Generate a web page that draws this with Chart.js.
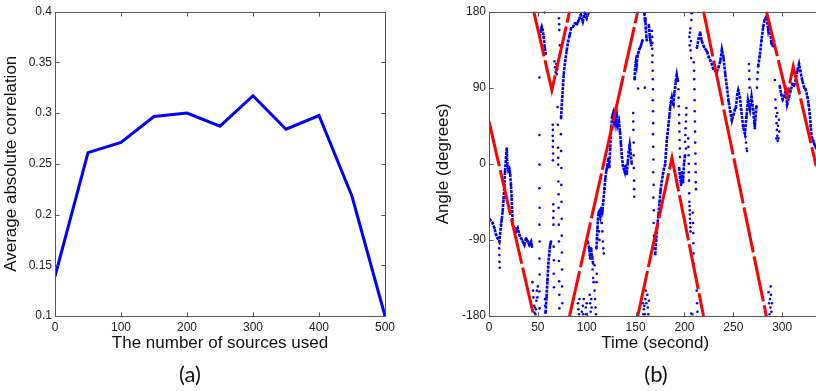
<!DOCTYPE html>
<html>
<head>
<meta charset="utf-8">
<script src="https://cdn.jsdelivr.net/npm/chart.js@4.4.1/dist/chart.umd.min.js"></script>
<style>
  html, body { margin: 0; padding: 0; background: #fff; overflow: hidden; }
  #wrap { position: relative; width: 816px; height: 391px; overflow: hidden; background: #fff; }
  canvas { position: absolute; top: 0; }
  .lab { position: absolute; top: 362px; font-family: Lato, 'Open Sans', sans-serif; font-size: 22px; line-height: 24px; color: #111; transform: translateX(-50%); white-space: nowrap; }
</style>
</head>
<body>
<div id="wrap">
  <canvas id="ca" width="410" height="391" style="left:0px"></canvas>
  <canvas id="cb" width="416" height="391" style="left:410px"></canvas>
  <div class="lab" style="left:190px">(a)</div>
  <div class="lab" style="left:656px">(b)</div>
</div>
<script>
// ---------- Panel (a) data ----------
const sourcesUsed = [0, 50, 100, 150, 200, 250, 300, 350, 400, 450, 500];
const avgAbsCorr  = [0.139, 0.261, 0.271, 0.2965, 0.300, 0.287, 0.317, 0.284, 0.2975, 0.218, 0.100];
const xTicksA = [0, 100, 200, 300, 400, 500];
const xTickLabelsA = ['0', '100', '200', '300', '400', '500'];
const yTicksA = [0.1, 0.15, 0.2, 0.25, 0.3, 0.35, 0.4];
const yTickLabelsA = ['0.1', '0.15', '0.2', '0.25', '0.3', '0.35', '0.4'];

// ---------- Panel (b) data ----------
const xTicksB = [0, 50, 100, 150, 200, 250, 300];
const xTickLabelsB = ['0', '50', '100', '150', '200', '250', '300'];
const yTicksB = [-180, -90, 0, 90, 180];
const yTickLabelsB = ['-180', '-90', '0', '90', '180'];

// red (true angle) line, pieces between wrap-arounds at +/-180
const redSegments = [
  [[0, 50], [45.8, -180]],
  [[45.8, 180], [64.3, 87], [82.4, 180]],
  [[82.4, -180], [152.2, 180]],
  [[152.2, -180], [187.2, 7], [219.5, -180]],
  [[219.5, 180], [283.8, -180]],
  [[283.8, 180], [305, 80], [311.3, 115], [334.8, -3]]
];

// dense blue estimate tracks
const blueTracks = [
  [[0.4,-65],[3.8,-70],[5.5,-76],[7.2,-84],[8.9,-88],[10.6,-92],[12.3,-72],[13,-66],[14,-56],[15,-41],[15.7,-25],[16.4,-9],[17.4,7],[18.2,18],[18.8,-2],[19.8,-8],[20.8,-6],[21.6,-12],[22.5,-25],[23.2,-41],[24.3,-72],[26,-76],[27.7,-80],[29.4,-76],[31.1,-84],[32.8,-88],[34.5,-92],[36.2,-96],[37.9,-88],[39.6,-92],[41.3,-96],[43,-92],[44,-98]],
  [[52,150],[53,158],[54,162],[55,158],[56,150],[57,138],[58,130]],
  [[58,-176],[58.8,-158],[59.8,-138],[60.5,-122],[61.5,-108],[62.5,-96],[63.5,-92]],
  [[73.7,54],[75,80],[76.5,106],[78,122],[79.5,134],[81,145],[82.5,152],[84,160],[86,162],[88,166],[90,165],[92,170],[94,176],[96,168],[98,178],[100,172],[101.5,178]],
  [[101,-92],[102.5,-100],[103.5,-112],[104.5,-100],[105.5,-110],[106.5,-118]],
  [[110,-100],[110.5,-88],[111,-76],[111.5,-66],[112,-58],[113,-56],[114,-62],[115,-52],[116,-56],[117,-44],[118,-30],[119,-18],[120,-8],[121,-4],[122,6],[123,-4],[124,18],[125,42],[126,56],[127,60],[128,50],[129,58],[130,48],[131,56],[132,46],[133,50],[134,38],[135,24],[136,8],[137,-2],[138,-6],[139,-10],[140,-2],[141,-12],[142,2],[143,14],[144,22],[145,12],[146,0]],
  [[149,100],[149.5,112],[150.3,120],[151,116],[152,128],[153,132],[154,136],[155,138],[156,142],[157,146]],
  [[159,178],[159.6,168],[160,172],[160.5,160],[161,150],[161.5,146]],
  [[163.5,164],[164,158],[164.5,150],[165,146],[166,140]],
  [[170,-107],[171,-90],[172,-75],[173.4,-60],[174.5,-45],[175.5,-32],[176.8,-21],[178,-12],[179,-6],[180.2,-1],[181,12],[181.9,27],[182.8,36],[183.6,46],[184.5,56],[185.3,66],[186,72],[187,78],[187.8,72],[188.7,70],[189.5,82],[190.4,90],[191.2,98],[192.1,105],[192.8,100]],
  [[194.5,-5],[195.5,-15],[196.5,-25],[197.5,-10],[198.5,-22],[199.5,0],[200.5,10]],
  [[212.7,137],[214.5,148],[216,155],[217.8,145],[220,138],[222.9,133],[225,126],[228,118],[229.5,112],[231.5,110],[233,108],[234.9,114],[236.6,121],[238.3,135],[240,125],[241.7,106],[243.5,90],[245.1,74],[246.8,62],[248.5,51],[250.2,58],[251.5,64],[252.6,66],[254,82],[255,87],[256.7,79],[258,64],[260,44],[261.8,36],[263.5,56],[265,75],[267,64],[268.6,79],[270.3,64],[272,44],[273.7,68]],
  [[275.4,115],[277,127],[278.8,146],[280.5,162],[282,170],[284,174],[285.7,158],[287,166],[289,142],[290.8,139]],
  [[297.5,92],[299,82],[300.5,76],[302,80],[303.5,86],[305,70],[307,79],[308.5,86],[310.4,94],[312,92],[313.8,99],[315.5,110],[317.2,118],[318.5,110],[320.6,98],[322.5,90],[324,88],[325.8,79],[327,70],[328.2,59],[329.2,44],[330.2,32],[331.5,28],[332.6,24],[334,20],[335,18]]
];

// sparse blue estimate dots
const blueDots = [
  [10.4,-100],[10.6,-108],[10.8,-116],[11,-123],
  [44.5,-140],[45,-150],[45.5,-158],[46,-168],[46.5,-176],[47,-170],[47.5,-178],[48,-172],[48.5,-162],[49,-150],[49.5,-158],[50,-145],
  [51.6,102],[51.6,34],[51.7,-1],[51.6,-29],[51.8,-52],[51.6,-72],[51.8,-92],[51.6,-112],[51.8,-131],[51.6,-151],[51.8,-171],
  [57.2,-160],[57.4,-168],[57.5,-176],[57,179],
  [65.2,46],[65.4,40],[65.2,33],[65.5,27],[65.3,20],[65.6,12],[65.4,4],[65.8,-48],[66,-56],[65.8,-64],[66,-72],[66.2,-98],[66.4,-114],[66.2,-130],[66.5,-146],
  [67,121],[67.6,114],[68.2,108],[68.8,118],[69.4,106],[70,112],
  [70.2,67],[70.4,46],[70.6,19],[70.8,7],[70.8,-1],[71,-21],[71.2,-36],[71.2,-52],[71.4,-72],[71.6,-92],[71.6,-115],[71.8,-139],[72,-155],[72,-171],
  [71.5,172],[71.8,165],[72,158],[72.5,140],[73,132],
  [73.6,35],[73.8,15],[74,-5],[74,-25],[74.2,-45],[74.4,-65],[74.4,-85],[74.6,-105],[74.8,-125],[74.8,-145],[75,-165],
  [91,-165],[91.5,-172],[92,-178],[92.5,-160],[95,-175],[96,-168],[96.5,-178],[97,-160],[99,-170],[99.5,-178],[100,-165],[103,-155],[103.5,-165],[104,-175],[104.5,-160],[105,-170],[108,-150],[108.5,-160],[109,-170],[109.5,-178],[110,-140],[110.2,-130],[106,-125],[106.5,-135],[107,-140],[108,-120],
  [112.5,-80],[113,-90],[115.5,-70],[116,-80],[116.5,-92],[117,-100],[117.5,-106],
  [147.5,60],[147.6,50],[147.8,40],[148,25],[148,10],[148.2,-5],[148.4,-20],[148.5,-30],[148.6,-39],
  [152.6,89],[159.4,90],
  [157.5,-165],[158,-178],[158.5,-172],[159,-168],[159.5,-178],[160,-160],[160.5,-150],[161,-165],[162,-155],[162.5,-170],[163,-178],[163.5,-162],
  [166.8,157],[167,150],[167.2,143],[167,136],[167.3,128],[167,120],[167.5,110],[167.6,100],[167.8,88],[167.6,75],[167.8,62],[168,48],[167.8,35],[168,20],[168.2,5],[168,-10],[168.4,-25],[168.2,-40],[168.6,-55],[168.4,-70],[168.8,-85],[169,-100],
  [193.5,98],[193.8,88],[194,78],[194.2,68],[194.5,58],[194.6,48],[194.8,38],[195,28],[195.2,18],[195.4,8],
  [200.5,26],[201,34],[201.2,42],[201.5,50],[201.8,58],[202,66],[201.5,18],
  [203.8,30],[204,20],[204.2,10],[204.4,0],[204.5,-10],[204.6,-20],[204.8,-35],[205,-45],[205.2,-50],[205.4,-55],[205.5,-60],[205.6,-65],[205.8,-70],[206,-75],[206.2,-80],
  [205,150],[205.3,140],[205.6,155],[206,160],[206.3,134],[206.6,145],[207,170],[207.4,178],[206.8,125],
  [209.5,120],[209.8,110],[210,100],[210.2,88],[210.4,75],[210.5,62],[210.7,50],[210.8,38],[211,25],[211.2,12],[211.3,0],[211.5,-10],[211.6,-22],[211.8,-30],
  [208.5,-58],[208.8,-70],[209,-82],[209.2,-94],[209.4,-106],[209.6,-118],[212,-135],[212.5,-150],[213,-165],[213.3,-175],[207,-177],[208,-178],
  [262,40],[262.5,32],[263,25],[263.5,18],[264,15],
  [266,118],[266.2,110],[266.4,100],[266.6,90],
  [271,55],[271.5,48],[272,42],
  [274.2,90],[274.5,100],[275,108],
  [286,-152],[286.5,-165],[287,-178],[287.5,-160],[288,-170],[288.5,-155],[289,-175],[289.5,-165],[288.2,-145],
  [292.5,99],[293,76],[293.4,66],[293.8,56],[294.2,48],[294.6,40],[295,33],[295.4,27],[295.8,45],[296.2,30],[296.6,52],[297,38],[294,30],[295,60]
];

// ---------- styling ----------
const FONT = "'Liberation Sans', Arial, Helvetica, sans-serif";
const tickFont = { family: FONT, size: 12 };
const titleFont = { family: FONT, size: 17 };
const BLUE = '#0000ff', RED = '#ff0000';

const framePlugin = {
  id: 'frame',
  afterDatasetsDraw(chart) {
    const { ctx, chartArea: a, scales } = chart;
    const x = scales.x, y = scales.y;
    const L = Math.round(a.left) + 0.5, R = Math.round(a.right) + 0.5;
    const T = Math.round(a.top) + 0.5, B = Math.round(a.bottom) + 0.5;
    ctx.save();
    ctx.strokeStyle = '#555';
    ctx.lineWidth = 1;
    ctx.setLineDash([]);
    ctx.strokeRect(L, T, R - L, B - T);
    ctx.beginPath();
    x.ticks.forEach(t => {
      const p = Math.round(x.getPixelForValue(t.value)) + 0.5;
      ctx.moveTo(p, B); ctx.lineTo(p, B - 4);
      ctx.moveTo(p, T); ctx.lineTo(p, T + 4);
    });
    y.ticks.forEach(t => {
      const p = Math.round(y.getPixelForValue(t.value)) + 0.5;
      ctx.moveTo(L, p); ctx.lineTo(L + 4, p);
      ctx.moveTo(R, p); ctx.lineTo(R - 4, p);
    });
    ctx.stroke();
    ctx.restore();
  }
};

function xScale(min, max, ticks, labels, title, titlePadBottom) {
  return {
    type: 'linear', min, max,
    grid: { display: false, drawTicks: false },
    border: { display: false },
    afterBuildTicks: s => { s.ticks = ticks.map(v => ({ value: v })); },
    afterFit: s => { s.height = 75; },
    ticks: { padding: 4, font: tickFont, color: '#222', maxRotation: 0, autoSkip: false,
             callback: v => labels[ticks.indexOf(v)] },
    title: { display: true, text: title, font: titleFont, color: '#111', padding: { top: 0, bottom: titlePadBottom } }
  };
}
function yScale(min, max, ticks, labels, title, width, titlePadTop) {
  return {
    type: 'linear', min, max,
    grid: { display: false, drawTicks: false },
    border: { display: false },
    afterBuildTicks: s => { s.ticks = ticks.map(v => ({ value: v })); },
    afterFit: s => { s.width = width; },
    ticks: { padding: 3, font: tickFont, color: '#222', autoSkip: false,
             callback: v => labels[ticks.findIndex(t => Math.abs(t - v) < 1e-9)] },
    title: { display: true, text: title, font: titleFont, color: '#111', padding: { top: titlePadTop, bottom: 0 } }
  };
}

// ---------- Chart (a) ----------
new Chart(document.getElementById('ca'), {
  type: 'line',
  data: {
    datasets: [{
      data: sourcesUsed.map((s, i) => ({ x: s, y: avgAbsCorr[i] })),
      borderColor: BLUE, borderWidth: 3, pointRadius: 0, tension: 0, fill: false, clip: 0
    }]
  },
  options: {
    responsive: false, animation: false, devicePixelRatio: 1,
    layout: { padding: { top: 11.5, right: 25, bottom: 0, left: 0 } },
    plugins: { legend: { display: false }, tooltip: { enabled: false }, title: { display: false } },
    events: [],
    scales: {
      x: xScale(0, 500, xTicksA, xTickLabelsA, 'The number of sources used', 37),
      y: yScale(0.1, 0.4, yTicksA, yTickLabelsA, 'Average absolute correlation', 55, 1)
    }
  },
  plugins: [framePlugin]
});

// ---------- Chart (b) ----------
const dsB = [];
redSegments.forEach(seg => dsB.push({
  data: seg.map(p => ({ x: p[0], y: p[1] })),
  showLine: true, borderColor: RED, borderWidth: 3, borderDash: [46, 4], borderCapStyle: 'butt',
  pointRadius: 0, tension: 0, fill: false, clip: 0
}));
blueTracks.forEach(seg => dsB.push({
  data: seg.map(p => ({ x: p[0], y: p[1] })),
  showLine: true, borderColor: BLUE, borderWidth: 2.6, borderDash: [3, 1], pointRadius: 1.3,
  pointBorderWidth: 0, backgroundColor: BLUE, tension: 0, fill: false, clip: 0
}));
dsB.push({
  data: blueDots.map(p => ({ x: p[0], y: p[1] })),
  showLine: false, pointRadius: 1.3, pointBorderWidth: 0, backgroundColor: BLUE, borderColor: BLUE, clip: 0
});

new Chart(document.getElementById('cb'), {
  type: 'scatter',
  data: { datasets: dsB },
  options: {
    responsive: false, animation: false, devicePixelRatio: 1,
    layout: { padding: { top: 11.5, right: 4.7, bottom: 0, left: 0 } },
    plugins: { legend: { display: false }, tooltip: { enabled: false }, title: { display: false } },
    events: [],
    scales: {
      x: xScale(0, 340, xTicksB, xTickLabelsB, 'Time (second)', 37),
      y: yScale(-180, 180, yTicksB, yTickLabelsB, 'Angle (degrees)', 79, 23)
    }
  },
  plugins: [framePlugin]
});
</script>
</body>
</html>
